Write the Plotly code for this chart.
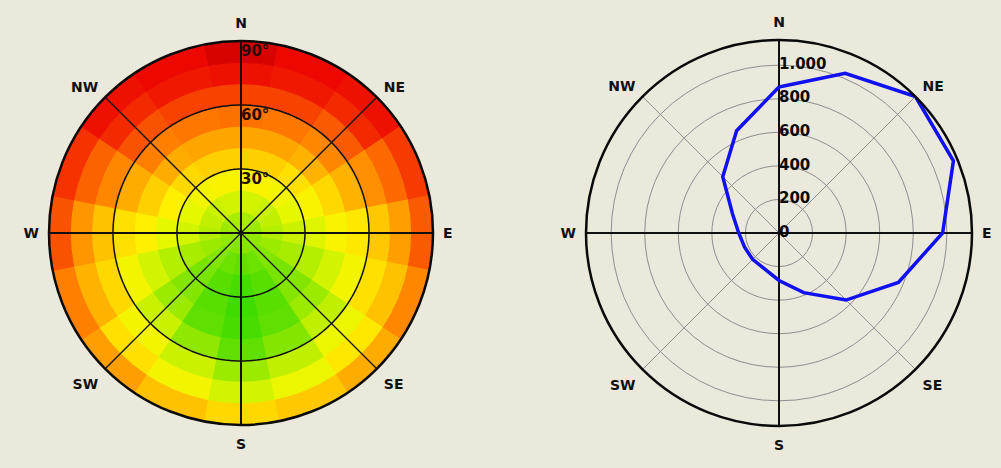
import plotly.graph_objects as go
import numpy as np

# ---------------------------------------------------------------- data
compass = ["N", "NE", "E", "SE", "S", "SW", "W", "NW"]
compass_deg = [0, 45, 90, 135, 180, 225, 270, 315]

# 16 orientation sectors (azimuth, clockwise from north)
sectors = ["N", "NNE", "NE", "ENE", "E", "ESE", "SE", "SSE",
           "S", "SSW", "SW", "WSW", "W", "WNW", "NW", "NNW"]
sector_az = [0, 22.5, 45, 67.5, 90, 112.5, 135, 157.5,
             180, 202.5, 225, 247.5, 270, 292.5, 315, 337.5]
sector_width = 22.5

# tilt bands (degrees from horizontal)
tilt_lower = [0, 10, 20, 30, 40, 50, 60, 70, 80]
tilt_upper = [10, 20, 30, 40, 50, 60, 70, 80, 90]
tilt_ticks = [30, 60, 90]
tilt_tick_text = ["30°", "60°", "90°"]

# relative yield [%] per tilt band, one value per sector (N ... NNW)
yield_tilt_00_10 = [90, 90, 90, 91, 91, 92, 92, 93, 93, 93, 92, 92, 91, 91, 90, 90]
yield_tilt_10_20 = [86, 86, 87, 88, 89, 91, 93, 95, 96, 95, 93, 91, 89, 88, 87, 86]
yield_tilt_20_30 = [81, 81, 82, 84, 87, 90, 94, 97, 99, 97, 94, 90, 86, 84, 82, 81]
yield_tilt_30_40 = [76, 76, 78, 81, 85, 89, 93, 97, 100, 97, 93, 89, 84, 80, 77, 76]
yield_tilt_40_50 = [70, 70, 72, 77, 81, 86, 91, 96, 99, 96, 91, 86, 80, 76, 71, 70]
yield_tilt_50_60 = [63, 64, 66, 72, 79, 82, 88, 93, 96, 92, 87, 82, 78, 71, 65, 64]
yield_tilt_60_70 = [57, 57, 60, 67, 75, 78, 83, 88, 91, 87, 82, 77, 74, 66, 59, 57]
yield_tilt_70_80 = [51, 52, 54, 62, 69, 74, 79, 83, 86, 82, 78, 72, 68, 61, 54, 52]
yield_tilt_80_90 = [47, 50, 51, 56, 60, 66, 71, 75, 77, 74, 69, 65, 59, 55, 51, 50]

yield_rows = [yield_tilt_00_10, yield_tilt_10_20, yield_tilt_20_30,
              yield_tilt_30_40, yield_tilt_40_50, yield_tilt_50_60,
              yield_tilt_60_70, yield_tilt_70_80, yield_tilt_80_90]

# annual energy per orientation (right diagram)
energy_kwh = [870, 1030, 1150, 1125, 975, 770, 565, 385,
              283, 230, 222, 222, 240, 300, 474, 660]
energy_ticks = [0, 200, 400, 600, 800, 1000]
energy_tick_text = ["0", "200", "400", "600", "800", "1.000"]
energy_max = 1150

# ---------------------------------------------------------------- style
BG = "#ebe8dc"
FONT = "DejaVu Sans"
label_font = dict(family=FONT, size=14, color="#111111", weight="bold")

cmin, cmax = 45, 100
stops = [(45, "#c80000"), (50, "#ec0800"), (55, "#f53200"), (60, "#fa5a00"),
         (65, "#ff8000"), (70, "#ffa500"), (75, "#ffc800"), (80, "#fff000"),
         (84, "#e6f800"), (88, "#c0f000"), (92, "#90e800"), (96, "#60e000"),
         (100, "#40dc00")]
colorscale = [[(v - cmin) / (cmax - cmin), c] for v, c in stops]

fig = go.Figure()

# ---------------------------------------------------------------- left: tilt / orientation map
cell_theta, cell_base, cell_r, cell_val = [], [], [], []
for lo, hi, row in zip(tilt_lower, tilt_upper, yield_rows):
    for az, v in zip(sector_az, row):
        cell_theta.append(az)
        cell_base.append(lo)
        cell_r.append(hi - lo)
        cell_val.append(v)

fig.add_trace(go.Barpolar(
    r=cell_r, base=cell_base, theta=cell_theta, width=sector_width,
    marker=dict(color=cell_val, colorscale=colorscale, cmin=cmin, cmax=cmax,
                line=dict(color=cell_val, colorscale=colorscale,
                          cmin=cmin, cmax=cmax, width=1)),
    subplot="polar", hoverinfo="skip", showlegend=False))

tmax = tilt_upper[-1]
ring_theta = np.linspace(0, 360, 361)


def diameters(rmax, angles):
    rr, tt = [], []
    for a in angles:
        rr += [rmax, 0, rmax, None]
        tt += [a, a, a + 180, None]
    return rr, tt


# thin diagonals, then the main cross
rr, tt = diameters(tmax, [45, 135])
fig.add_trace(go.Scatterpolar(r=rr, theta=tt, mode="lines",
                              line=dict(color="#151515", width=1.3),
                              subplot="polar", hoverinfo="skip", showlegend=False))
rr, tt = diameters(tmax, [0, 90])
fig.add_trace(go.Scatterpolar(r=rr, theta=tt, mode="lines",
                              line=dict(color="#101010", width=2),
                              subplot="polar", hoverinfo="skip", showlegend=False))
for t in tilt_ticks[:-1]:
    fig.add_trace(go.Scatterpolar(r=[t] * len(ring_theta), theta=ring_theta,
                                  mode="lines", line=dict(color="#101010", width=1.5),
                                  subplot="polar", hoverinfo="skip", showlegend=False))

fig.add_trace(go.Scatterpolar(
    r=[t - 5.5 for t in tilt_ticks], theta=[0] * len(tilt_ticks),
    text=tilt_tick_text, mode="text", textposition="middle right",
    textfont=dict(family=FONT, size=15, color="#2a0a00", weight="bold"),
    cliponaxis=False, subplot="polar", hoverinfo="skip", showlegend=False))

# ---------------------------------------------------------------- right: energy per orientation
rr, tt = diameters(energy_max, [0, 90])
fig.add_trace(go.Scatterpolar(r=rr, theta=tt, mode="lines",
                              line=dict(color="#101010", width=2),
                              subplot="polar2", hoverinfo="skip", showlegend=False))

fig.add_trace(go.Scatterpolar(
    r=energy_kwh + energy_kwh[:1], theta=sector_az + sector_az[:1],
    mode="lines", line=dict(color="#1010f0", width=3.5),
    subplot="polar2", showlegend=False))

fig.add_trace(go.Scatterpolar(
    r=energy_ticks, theta=[0] * len(energy_ticks), text=energy_tick_text,
    mode="text", textposition="middle right",
    textfont=dict(family=FONT, size=15, color="#0a0a0a", weight="bold"),
    cliponaxis=False, subplot="polar2", hoverinfo="skip", showlegend=False))

# ---------------------------------------------------------------- layout
W, H = 1001, 468


def dom(cx, cy, rad):
    return dict(x=[(cx - rad) / W, (cx + rad) / W],
                y=[(H - cy - rad) / H, (H - cy + rad) / H])


angular_common = dict(rotation=90, direction="clockwise", tickmode="array",
                      tickvals=compass_deg, ticktext=compass,
                      ticks="outside", ticklen=6, tickcolor="rgba(0,0,0,0)",
                      tickfont=label_font, showline=True,
                      linecolor="#0a0a0a", linewidth=2.5)

fig.update_layout(
    width=W, height=H,
    margin=dict(l=0, r=0, t=0, b=0),
    paper_bgcolor=BG, plot_bgcolor=BG,
    showlegend=False,
    polar=dict(
        domain=dom(241, 233, 192), bgcolor=BG, barmode="overlay",
        radialaxis=dict(range=[0, tmax], visible=False, showgrid=False),
        angularaxis=dict(showgrid=False, **angular_common),
    ),
    polar2=dict(
        domain=dom(779, 233, 193), bgcolor=BG,
        radialaxis=dict(range=[0, energy_max], tickvals=energy_ticks[1:],
                        showticklabels=False, ticks="", showline=False,
                        showgrid=True, gridcolor="#8e8e8e", gridwidth=1),
        angularaxis=dict(showgrid=True, gridcolor="#8e8e8e", gridwidth=1,
                         **angular_common),
    ),
)

fig.write_html("out.html")
